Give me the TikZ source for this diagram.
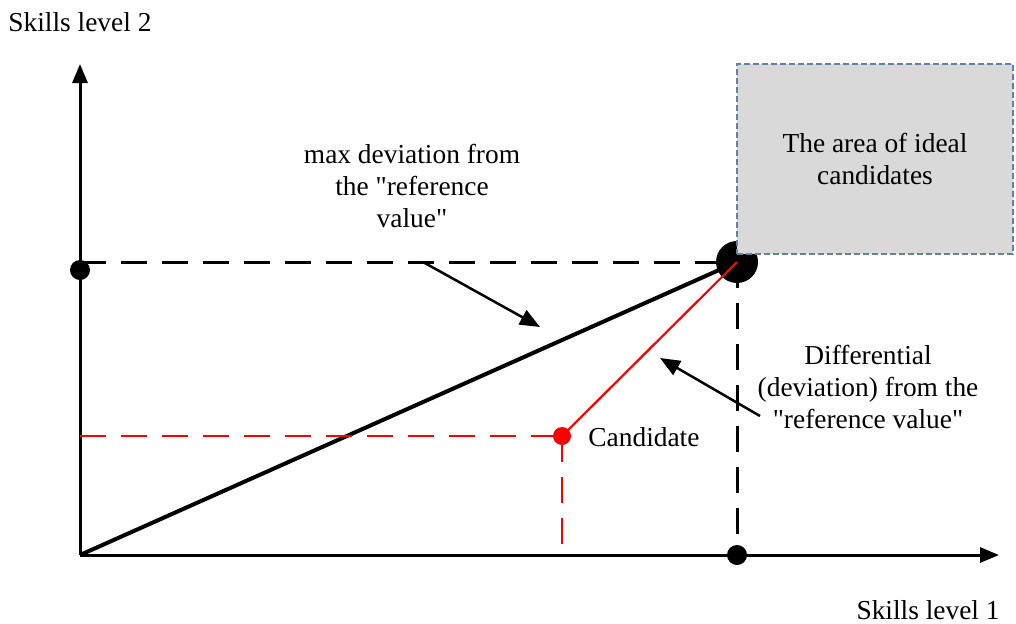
\documentclass[tikz,border=0pt]{standalone}
\usepackage{fontspec}
\setmainfont{Liberation Serif}[Ligatures=TeXOff]
\usetikzlibrary{positioning,calc,arrows.meta}
\definecolor{AreaGray}{RGB}{217,217,217}
\definecolor{AreaEdge}{RGB}{100,130,160}
\definecolor{CandRed}{RGB}{255,0,0}
\tikzset{
  axis/.style={draw=black,line width=1.5pt,-{Triangle[length=9.5pt,width=7.5pt]}},
  guide/.style={draw=black,line width=1.5pt,dash pattern=on 13pt off 7.5pt},
  redguide/.style={draw=CandRed,line width=1.1pt,dash pattern=on 13pt off 7.5pt},
  pointer/.style={draw=black,line width=1.25pt,-{Triangle[length=10pt,width=8pt]}},
  lbl/.style={font=\fontsize{13.7}{16}\selectfont,align=center,inner sep=0pt},
}
\tikzset{dot/.style={circle,fill=black,inner sep=0pt,minimum size=10pt}, bigdot/.style={circle,fill=black,inner sep=0pt,minimum size=21pt},
  area/.style={draw=AreaEdge,fill=AreaGray,dash pattern=on 3pt off 1.5pt,line width=0.6pt,minimum width=138pt,minimum height=95pt,inner sep=0pt}}

\begin{document}
\begin{tikzpicture}[x=0.5pt,y=-0.5pt]
\useasboundingbox (0,0) rectangle (1016,623);
\coordinate (O) at (80,555);
\coordinate (ytop) at (80,64);
\coordinate (xend) at (999,555);
\coordinate (g2) at (80,262);
\coordinate (ry) at (80,436);
\coordinate (rx) at (562,555);
\coordinate (p1s) at (423,262);
\coordinate (p1e) at (540,327);
\coordinate (p2s) at (760,416);
\coordinate (p2e) at (660,358);
\draw[axis] (O)--(ytop);
\draw[axis] (O)--(xend);
\node[dot] (ydot) at (80,270) {};
\node[dot] (xdot) at (737,555) {};
\node[bigdot] (ref) at (737,262) {};
\draw[guide] (g2)--(ref.center);
\draw[guide] (ref.center)--(xdot.center);
\draw[line width=2pt] (O)--(ref.center);
\node[dot,fill=CandRed,minimum size=9pt] (cand) at (562,436) {};
\draw[redguide] (ry)--(cand.center);
\draw[redguide] (cand.center)--(rx);
\draw[draw=CandRed,line width=1.1pt] (cand.center)--(ref.center);
\node[area] (ideal) at (875,159) {};
\node[lbl] at (ideal) {The area of ideal\\candidates};
\draw[pointer] (p1s)--(p1e);
\draw[pointer] (p2s)--(p2e);
\node[lbl] (maxdev) at (412,186) {max deviation from\\the "reference\\value"};
\node[lbl] (diff) at (868,387) {Differential\\(deviation) from the\\"reference value"};
\node[lbl,anchor=west] (candlab) at (588,437) {Candidate};
\node[lbl,anchor=west] (ylab) at (8,22) {Skills level 2};
\node[lbl,anchor=east] (xlab) at (1000,610) {Skills level 1};
\end{tikzpicture}
\end{document}
